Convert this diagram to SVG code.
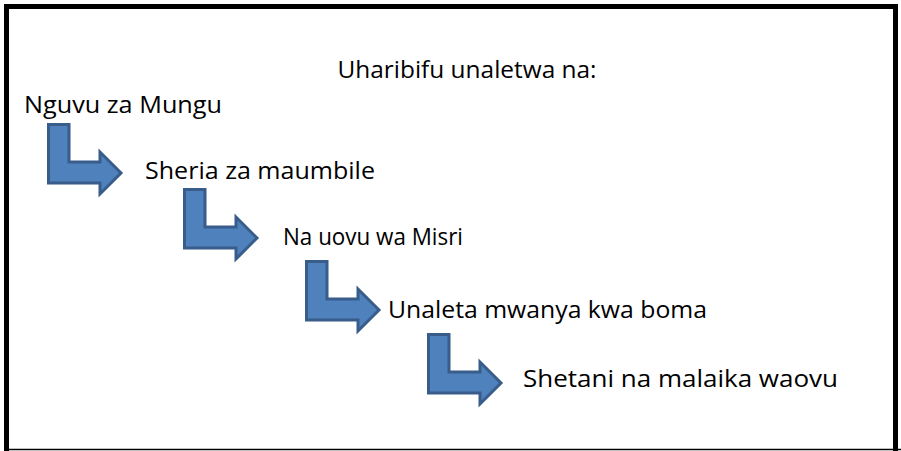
<svg xmlns="http://www.w3.org/2000/svg" width="901" height="451" viewBox="0 0 901 451">
<style>
.t{font-family:"Open Sans","Noto Sans","Liberation Sans",sans-serif;font-size:23.5px;fill:#000}
.arr{fill:#4F81BD;stroke:#385D8A;stroke-width:3;stroke-linejoin:miter}
</style>
<defs>
<path id="bent" d="M1.5,1.5 H22 V39 H53 V29 L74,50 L53,71 V60 H1.5 Z"/>
</defs>
<rect x="0" y="0" width="901" height="451" fill="#fff"/>
<g id="frame">
<rect x="6.5" y="6.5" width="889" height="450" fill="none" stroke="#000" stroke-width="5"/>
<line x1="8" y1="449.5" x2="901" y2="449.5" stroke="#000" stroke-width="1.5"/>
</g>
<g id="title"><text class="t" x="467" y="78" text-anchor="middle" textLength="259" lengthAdjust="spacingAndGlyphs">Uharibifu unaletwa na:</text></g>
<g id="n1"><text class="t" x="24" y="113" textLength="198" lengthAdjust="spacingAndGlyphs">Nguvu za Mungu</text></g>
<g id="n2"><text class="t" x="145" y="179" textLength="230" lengthAdjust="spacingAndGlyphs">Sheria za maumbile</text></g>
<g id="n3"><text class="t" x="283" y="245" textLength="180" lengthAdjust="spacingAndGlyphs">Na uovu wa Misri</text></g>
<g id="n4"><text class="t" x="388" y="318" textLength="319" lengthAdjust="spacingAndGlyphs">Unaleta mwanya kwa boma</text></g>
<g id="n5"><text class="t" x="523" y="387" textLength="315" lengthAdjust="spacingAndGlyphs">Shetani na malaika waovu</text></g>
<g id="connectors">
<use href="#bent" class="arr" transform="translate(47,123)"/>
<use href="#bent" class="arr" transform="translate(183,188)"/>
<use href="#bent" class="arr" transform="translate(305,260)"/>
<use href="#bent" class="arr" transform="translate(427,333)"/>
</g>
</svg>
